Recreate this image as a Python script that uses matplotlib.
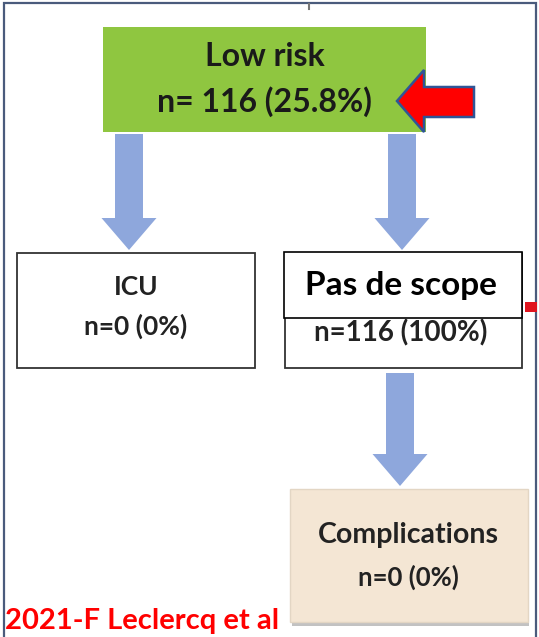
import matplotlib
matplotlib.use("Agg")
import matplotlib.pyplot as plt
from matplotlib.patches import Rectangle, Polygon

# ---- data ----
top_label = "Low risk"
top_n = 116
top_pct = "25.8%"
branch_labels = ["ICU", "Pas de scope"]
branch_n = [0, 116]
branch_pct = ["0%", "100%"]
outcome_label = "Complications"
outcome_n = 0
outcome_pct = "0%"
citation = "2021-F Leclercq et al"

W, H = 539, 637
fig = plt.figure(figsize=(W / 100, H / 100), dpi=100)
ax = fig.add_axes([0, 0, 1, 1])
ax.set_xlim(0, W)
ax.set_ylim(H, 0)
ax.axis("off")

FONT = ["Lato", "DejaVu Sans"]
GREEN = "#8fc640"
BLUE = "#8ea7dc"
BEIGE = "#f4e6d4"
FRAME = "#4a5b7c"

# outer frame (top, left, right)
ax.plot([4, 4, 536, 536], [H, 3, 3, H], color=FRAME, lw=1.6, solid_joinstyle="miter")
ax.plot([309, 309], [4, 9], color="#777777", lw=1.5)

def box(x0, y0, x1, y1, face, edge="#333333", lw=1.3, z=2):
    ax.add_patch(Rectangle((x0, y0), x1 - x0, y1 - y0, facecolor=face,
                           edgecolor=edge, lw=lw, zorder=z))

def down_arrow(cx, y0, y1, shaft_w=28, head_w=55, head_len=32):
    pts = [(cx - shaft_w / 2, y0), (cx + shaft_w / 2, y0),
           (cx + shaft_w / 2, y1 - head_len), (cx + head_w / 2, y1 - head_len),
           (cx, y1), (cx - head_w / 2, y1 - head_len),
           (cx - shaft_w / 2, y1 - head_len)]
    ax.add_patch(Polygon(pts, closed=True, facecolor=BLUE, edgecolor="none", zorder=1))

def label(x, y, s, size, color="#1a1a1a", ha="center"):
    ax.text(x, y, s, ha=ha, va="center", fontsize=size, fontweight="bold",
            family=FONT, color=color, zorder=5)

# top green box
box(103, 27, 426, 132, GREEN, edge="none", lw=0)
label(264.5, 57, top_label, 23)
label(264.5, 102, f"n= {top_n} ({top_pct})", 23)

# red left-pointing arrow
red_pts = [(397, 101), (424, 70), (424, 87), (474, 87), (474, 117), (424, 117), (424, 132)]
ax.add_patch(Polygon(red_pts, closed=True, facecolor="#ff0000", edgecolor="#2f5597",
                     lw=1.8, zorder=6))

# blue arrows
down_arrow(129, 134, 250)
down_arrow(402, 134, 250)
down_arrow(400, 373, 486)

# ICU box
box(17, 253, 255, 368, "white")
label(136, 287, branch_labels[0], 19, "#222222")
label(136, 326, f"n={branch_n[0]} ({branch_pct[0]})", 19, "#222222")

# right box with overlay label box
box(285, 253, 522, 368, "white")
label(401, 333, f"n={branch_n[1]} ({branch_pct[1]})", 20, "#222222")
box(284, 252, 522, 318, "white", edge="#000000", lw=1.2, z=3)
label(401, 286, branch_labels[1], 24, "black")
# small red mark at right
ax.add_patch(Rectangle((525, 302), 12, 10, facecolor="#e0141e", edgecolor="none", zorder=2))

# outcome box with shadow
ax.add_patch(Rectangle((292, 492), 237, 134, facecolor="#9a9a9a", edgecolor="none",
                       alpha=0.6, zorder=1))
box(290, 489, 528, 622, BEIGE, edge="#e3d6c4", lw=1.0)
label(408, 535, outcome_label, 20.5, "#222222")
label(408, 577, f"n={outcome_n} ({outcome_pct})", 18.5, "#222222")

# citation
label(5, 621, citation, 21, "#ff0000", ha="left")

fig.savefig("out.png", dpi=100)
